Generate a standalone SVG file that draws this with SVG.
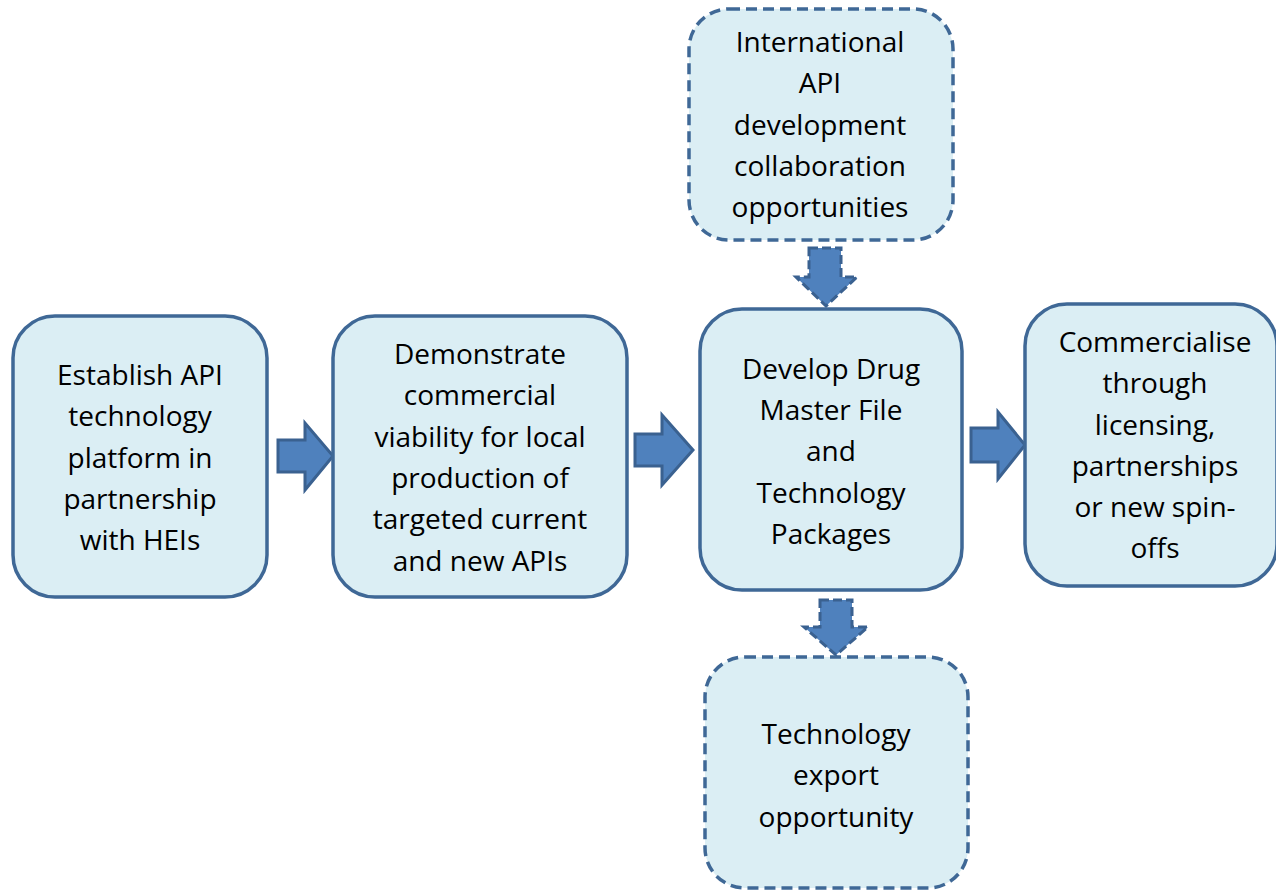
<svg xmlns="http://www.w3.org/2000/svg" width="1276" height="891" viewBox="0 0 1276 891">
<style>
.box{fill:#DBEEF4;stroke:#3F6896;stroke-width:3.5}
.dash{stroke-dasharray:11 6}
.arr{fill:#4F81BD;stroke:#3A6190;stroke-width:3;stroke-linejoin:miter}
.arrd{stroke-dasharray:9 4}
text{font-family:"Open Sans","Liberation Sans",sans-serif;font-size:28px;fill:#000;text-anchor:middle}
</style>
<rect width="1276" height="891" fill="#fff"/>
<g id="connectors">
<path class="arr" d="M278,440 H305 V423 L333,456 L305,490 V472 H278 Z"/>
<path class="arr" d="M635,434 H662 V415 L693,450 L662,485 V466 H635 Z"/>
<path class="arr" d="M971,428 H998 V412 L1025,445 L998,479 V462 H971 Z"/>
<path class="arr arrd" d="M809,248 H841 V277 H857 L826,306 L796,277 H809 Z"/>
<path class="arr arrd" d="M820,600 H852 V627 H868 L836,655 L804,627 H820 Z"/>
</g>
<g id="n1">
<rect class="box" x="13" y="316" width="254" height="281" rx="42"/>
<text x="140" y="385">Establish API</text>
<text x="140" y="426">technology</text>
<text x="140" y="468">platform in</text>
<text x="140" y="509">partnership</text>
<text x="140" y="550">with HEIs</text>
</g>
<g id="n2">
<rect class="box" x="333" y="316" width="294" height="281" rx="42"/>
<text x="480" y="364">Demonstrate</text>
<text x="480" y="405">commercial</text>
<text x="480" y="447">viability for local</text>
<text x="480" y="488">production of</text>
<text x="480" y="529">targeted current</text>
<text x="480" y="571">and new APIs</text>
</g>
<g id="n3">
<rect class="box dash" x="689" y="9" width="264" height="231" rx="40"/>
<text x="820" y="52">International</text>
<text x="820" y="93">API</text>
<text x="820" y="135">development</text>
<text x="820" y="176">collaboration</text>
<text x="820" y="217">opportunities</text>
</g>
<g id="n4">
<rect class="box" x="700" y="309" width="262" height="281" rx="42"/>
<text x="831" y="379">Develop Drug</text>
<text x="831" y="420">Master File</text>
<text x="831" y="461">and</text>
<text x="831" y="503">Technology</text>
<text x="831" y="544">Packages</text>
</g>
<g id="n5">
<rect class="box" x="1025" y="304" width="252" height="282" rx="42"/>
<text x="1155" y="352">Commercialise</text>
<text x="1155" y="393">through</text>
<text x="1155" y="435">licensing,</text>
<text x="1155" y="476">partnerships</text>
<text x="1155" y="517">or new spin-</text>
<text x="1155" y="558">offs</text>
</g>
<g id="n6">
<rect class="box dash" x="705" y="657" width="263" height="231" rx="40"/>
<text x="836" y="744">Technology</text>
<text x="836" y="785">export</text>
<text x="836" y="827">opportunity</text>
</g>
</svg>
